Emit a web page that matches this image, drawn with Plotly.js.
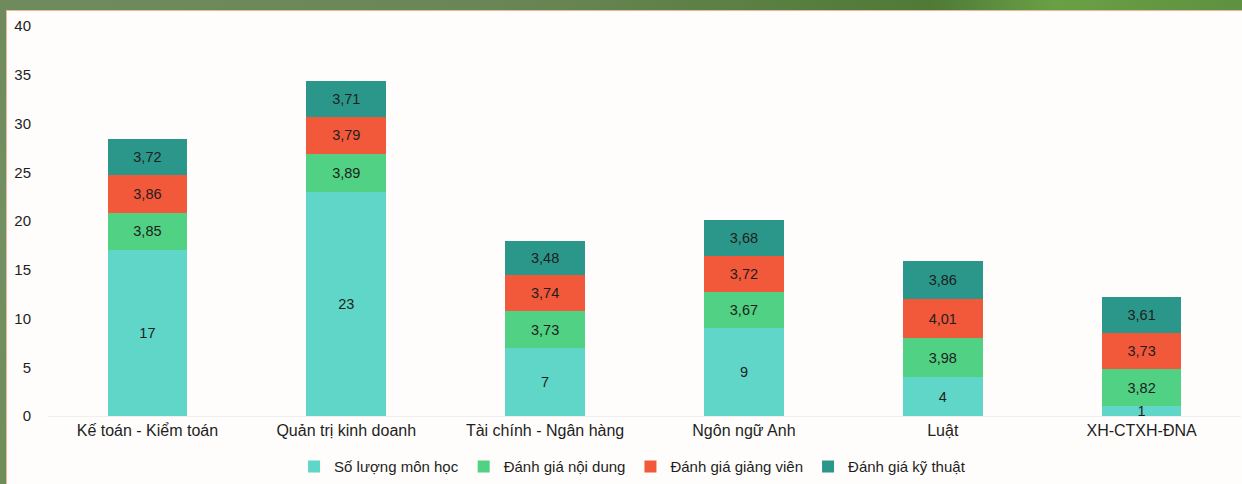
<!DOCTYPE html>
<html>
<head>
<meta charset="utf-8">
<script src="https://cdn.plot.ly/plotly-3.0.1.min.js"></script>
<style>
  html, body { margin: 0; padding: 0; }
  body {
    width: 1242px; height: 484px; overflow: hidden; position: relative;
    background: linear-gradient(90deg, #6f8a5c 0%, #6b8656 40%, #4f7a36 75%, #6aa045 85%, #5e9140 100%);
  }
  #leftband {
    position: absolute; left: 0; top: 0; width: 6px; height: 484px;
    background: linear-gradient(180deg, #6f8a5c 0%, #748f62 50%, #6f8d58 100%);
  }
  #chart {
    position: absolute; left: 6px; top: 10px; width: 1236px; height: 474px;
    background: #fffdfb; border-top: 1px solid #e8b898; border-left: 1px solid #e8b898;
    box-sizing: border-box;
  }
</style>
</head>
<body>
<div id="leftband"></div>
<div id="chart"></div>
<script>
const categories = ["Kế toán - Kiểm toán", "Quản trị kinh doanh", "Tài chính - Ngân hàng", "Ngôn ngữ Anh", "Luật", "XH-CTXH-ĐNA"];
const soLuongMonHoc = [17, 23, 7, 9, 4, 1];
const danhGiaNoiDung = [3.85, 3.89, 3.73, 3.67, 3.98, 3.82];
const danhGiaGiangVien = [3.86, 3.79, 3.74, 3.72, 4.01, 3.73];
const danhGiaKyThuat = [3.72, 3.71, 3.48, 3.68, 3.86, 3.61];
const seriesNames = ["Số lượng môn học", "Đánh giá nội dung", "Đánh giá giảng viên", "Đánh giá kỹ thuật"];
const yTicks = [0, 5, 10, 15, 20, 25, 30, 35, 40];

const colors = ["#5fd6c7", "#50d183", "#f2583a", "#2b978b"];
const textFont = {family: "Liberation Sans, Arial, sans-serif", size: 14.5, color: "#1e1e1e"};

function mk(vals, i, tmpl) {
  return {
    type: "bar", x: categories, y: vals, name: seriesNames[i],
    marker: {color: colors[i], line: {width: 0}},
    texttemplate: tmpl, textposition: "inside", insidetextanchor: "middle",
    textangle: 0, constraintext: "none", textfont: textFont, hoverinfo: "skip"
  };
}

const data = [
  mk(soLuongMonHoc, 0, "%{y}"),
  mk(danhGiaNoiDung, 1, "%{y:.2f}"),
  mk(danhGiaGiangVien, 2, "%{y:.2f}"),
  mk(danhGiaKyThuat, 3, "%{y:.2f}")
];

const layout = {
  width: 1236, height: 474,
  margin: {l: 41, r: 2, t: 15, b: 66},
  paper_bgcolor: "rgba(0,0,0,0)", plot_bgcolor: "rgba(0,0,0,0)",
  barmode: "stack", bargap: 0.6,
  separators: ",.",
  font: {family: "Liberation Sans, Arial, sans-serif", color: "#1e1e1e"},
  xaxis: {
    showgrid: false, zeroline: false, showline: true, linecolor: "#efefef", linewidth: 1,
    ticks: "", tickfont: {size: 16, color: "#1e1e1e"}
  },
  yaxis: {
    range: [0, 40], tickvals: yTicks, showgrid: false, zeroline: false, showline: false,
    ticks: "", tickfont: {size: 15, color: "#1e1e1e"}, ticklabelstandoff: 16
  },
  showlegend: true,
  legend: {
    orientation: "h", traceorder: "normal", x: 0.49, xanchor: "center", y: -0.13, yanchor: "middle",
    font: {size: 15, color: "#1e1e1e"}, itemwidth: 30, tracegroupgap: 0,
    bgcolor: "rgba(0,0,0,0)"
  }
};

Plotly.newPlot("chart", data, layout, {displayModeBar: false, staticPlot: true});
</script>
</body>
</html>
